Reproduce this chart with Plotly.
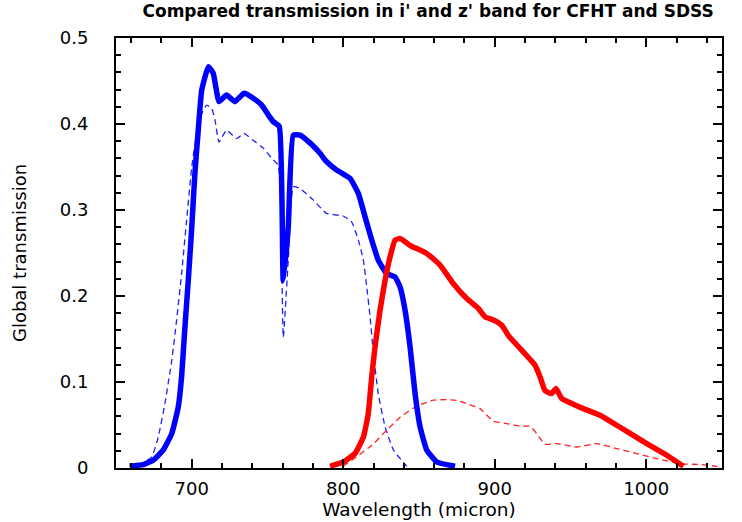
import plotly.graph_objects as go

# CFHT i' (thick blue)
cfht_i_wl = [659, 668, 674.6, 681.2, 686.8, 691.1, 693.3, 695.5, 697.7, 700, 702.1, 704.3, 706.6, 711,
             714.2, 718, 723, 728.5, 734.5, 740.6, 746.2, 750.6, 753.9, 757.8, 760.4, 763.7, 767, 771.5,
             778, 784.7, 788, 795.7, 804.5, 810, 814.4, 818.8, 823.1, 828.7, 834.2, 837.5, 840.8, 844.1,
             847.4, 850.7, 855.1, 861.7, 873.8]
cfht_i_tr = [0.002, 0.004, 0.009, 0.021, 0.040, 0.071, 0.106, 0.164, 0.218, 0.280, 0.343, 0.393, 0.4395, 0.4666,
             0.459, 0.426, 0.4337, 0.426, 0.4357, 0.430, 0.422, 0.4104, 0.4026, 0.397, 0.218, 0.280, 0.387, 0.387,
             0.378, 0.366, 0.358, 0.3464, 0.3367, 0.319, 0.292, 0.265, 0.2417, 0.226, 0.222, 0.2106, 0.1835, 0.141,
             0.0866, 0.048, 0.021, 0.007, 0.002]

# SDSS i' (dashed blue)
sdss_i_wl = [665, 673.6, 677.9, 682.3, 686.8, 690, 693.3, 696.6, 700, 703.3, 706.6, 709.9, 713.2, 715.3, 718,
             723, 729.6, 734.5, 740.6, 747.2, 752.8, 757.1, 760.4, 763.7, 767, 771.5, 780.3, 789, 800, 805.6,
             810, 813.3, 815.5, 817.7, 819.9, 823.1, 827.6, 833.1, 841.9]
sdss_i_tr = [0.003, 0.013, 0.036, 0.075, 0.125, 0.172, 0.226, 0.288, 0.350, 0.389, 0.412, 0.422, 0.418, 0.405, 0.379,
             0.393, 0.383, 0.389, 0.381, 0.372, 0.360, 0.352, 0.152, 0.2417, 0.327, 0.325, 0.3115, 0.296, 0.293, 0.286,
             0.265, 0.2417, 0.2106, 0.176, 0.133, 0.0866, 0.048, 0.021, 0.002]

# CFHT z' (thick red)
cfht_z_wl = [791.3, 800, 807.8, 813.3, 816.5, 818.8, 821, 824.3, 827.6, 830.9, 834.2, 837.5, 844, 855.1, 863.9,
             872.6, 881.5, 889.2, 893.6, 899.1, 904.6, 909, 916.7, 926.6, 929.9, 933.2, 937.6, 940.4, 944.2,
             950.8, 958.5, 969.5, 980.5, 1000.3, 1013.5, 1024.5]
cfht_z_tr = [0.002, 0.007, 0.017, 0.036, 0.063, 0.106, 0.141, 0.1835, 0.218, 0.2455, 0.265, 0.267, 0.259, 0.2495, 0.236,
             0.2146, 0.197, 0.1855, 0.1757, 0.172, 0.166, 0.154, 0.139, 0.1195, 0.106, 0.090, 0.0866, 0.0924, 0.0808,
             0.075, 0.069, 0.0613, 0.0497, 0.0284, 0.0148, 0.002]

# SDSS z' (dashed red)
sdss_z_wl = [800, 808.8, 819.9, 828.7, 837.5, 848.5, 859.4, 868.2, 875, 881.5, 890.3, 899.1, 908, 916.7, 923.3,
             927.7, 933.2, 940.9, 954.1, 967.3, 980.5, 993.7, 1006.9, 1022.3, 1035.5, 1046.5, 1050]
sdss_z_tr = [0.002, 0.013, 0.028, 0.044, 0.059, 0.072, 0.0788, 0.0795, 0.0785, 0.075, 0.069, 0.0543, 0.0517, 0.0485,
             0.0485, 0.040, 0.0276, 0.0284, 0.0244, 0.0284, 0.0226, 0.0168, 0.011, 0.005, 0.004, 0.002, 0.001]

x_ticks = [700, 800, 900, 1000]
y_ticks = [0, 0.1, 0.2, 0.3, 0.4, 0.5]
y_tick_text = ["0", "0.1", "0.2", "0.3", "0.4", "0.5"]

fig = go.Figure()
fig.add_trace(go.Scatter(x=sdss_i_wl, y=sdss_i_tr, mode="lines",
                         line=dict(color="#2020ff", width=1.3, dash="6px,4px", shape="spline", smoothing=0.4)))
fig.add_trace(go.Scatter(x=sdss_z_wl, y=sdss_z_tr, mode="lines",
                         line=dict(color="#ff2020", width=1.3, dash="6px,4px", shape="spline", smoothing=0.4)))
fig.add_trace(go.Scatter(x=cfht_i_wl, y=cfht_i_tr, mode="lines",
                         line=dict(color="#0000ff", width=5.5, shape="spline", smoothing=0.4)))
fig.add_trace(go.Scatter(x=cfht_z_wl, y=cfht_z_tr, mode="lines",
                         line=dict(color="#ff0000", width=5.5, shape="spline", smoothing=0.4)))

font_family = "DejaVu Sans, sans-serif"
fig.update_layout(
    width=742, height=522,
    paper_bgcolor="white", plot_bgcolor="white",
    showlegend=False,
    margin=dict(l=116, r=20, t=38, b=54, autoexpand=False),
    title=dict(text="<b>Compared transmission in i' and z' band for CFHT and SDSS</b>",
               x=0.577, xanchor="center", y=0.99, yanchor="top",
               font=dict(family=font_family, size=17, color="black")),
    font=dict(family=font_family, color="black"),
)
fig.update_xaxes(
    range=[650, 1050], tickvals=x_ticks, ticks="inside", ticklen=9, tickwidth=1.5,
    tickcolor="black", showline=True, linecolor="black", linewidth=2, mirror="allticks",
    showgrid=False, zeroline=False, tickfont=dict(size=18), ticklabelstandoff=3, automargin=False,
    minor=dict(dtick=20, tick0=0, ticks="inside", ticklen=5, tickwidth=1.5, tickcolor="black", showgrid=False),
    title=dict(text="Wavelength (micron)", font=dict(size=18.5), standoff=0),
)
fig.update_yaxes(
    range=[0, 0.5], tickvals=y_ticks, ticktext=y_tick_text, ticks="inside", ticklen=9, tickwidth=1.5,
    tickcolor="black", showline=True, linecolor="black", linewidth=2, mirror="allticks",
    showgrid=False, zeroline=False, tickfont=dict(size=18), ticklabelstandoff=22, automargin=False,
    minor=dict(dtick=0.02, tick0=0, ticks="inside", ticklen=5, tickwidth=1.5, tickcolor="black", showgrid=False),
    title=dict(text="Global transmission", font=dict(size=18), standoff=28),
)

fig.write_html("out.html", config={"displayModeBar": False},
               post_script="document.body.style.margin='0px';document.body.style.padding='0px';"
                           "document.body.style.overflow='hidden';")
